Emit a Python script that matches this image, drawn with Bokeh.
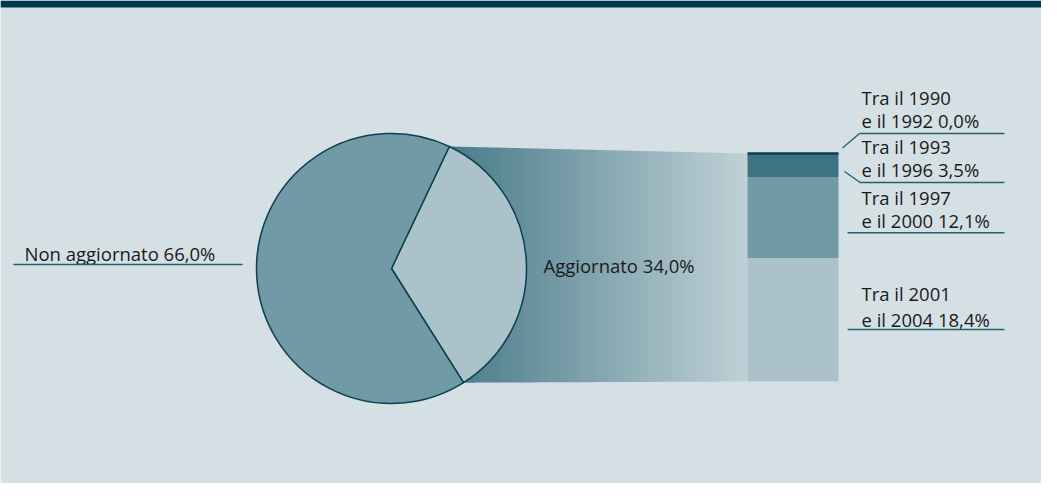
import numpy as np
from bokeh.plotting import figure
from bokeh.models import Range1d
from bokeh.core.properties import value
from bokeh.embed import file_html
from bokeh.resources import INLINE

# ---------------- data ----------------
main_labels = ["Aggiornato", "Non aggiornato"]
main_values = [34.0, 66.0]

sub_from = ["1990", "1993", "1997", "2001"]
sub_to = ["1992", "1996", "2000", "2004"]
sub_values = [0.0, 3.5, 12.1, 18.4]

# ---------------- style ----------------
BG = "#d5e0e5"
BAND = "#003a4a"
OUTLINE = "#0b4150"
PIE_COLORS = ["#abc2ca", "#7199a6"]
BAR_COLORS = ["#0b3f4e", "#3d7382", "#7199a6", "#abc2ca"]
TEXT = "#1a1a1a"
RULE = "#2a5d6b"
FONT = value("Open Sans")
FS = "18.5px"
FIX = 7.0  # baseline correction (px)

def fmt(v):
    return f"{v:.1f}%".replace(".", ",")

p = figure(width=1041, height=483, x_range=Range1d(8, 1049), y_range=Range1d(-491, -8),
           output_backend="svg", toolbar_location=None, min_border=0,
           x_axis_location=None, y_axis_location=None)
p.grid.visible = False
p.outline_line_color = None
p.background_fill_color = BG
p.border_fill_color = BG

# top band
p.quad(left=8, right=1049, top=-8, bottom=-15, fill_color=BAND, line_color=None)

# ---------------- pie geometry ----------------
cx, cy, r = 399.0, -276.0, 135.0
rot = np.deg2rad(-57.75)
total = sum(main_values)
fracs = np.array(main_values) / total
ends = rot + np.cumsum(fracs) * 2 * np.pi
starts = np.concatenate([[rot], ends[:-1]])

# bar geometry
bar_left, bar_right = 755.0, 846.0
bar_bottom = -389.0
scale = (389.0 - 161.0) / main_values[0]  # px per percent
stack_vals = sub_values[::-1]
stack_cols = BAR_COLORS[::-1]
cum = np.concatenate([[0], np.cumsum(stack_vals)])
bar_top = bar_bottom + cum[-1] * scale

# ---------------- gradient connector ----------------
tx, ty = cx + r * np.cos(ends[0]), cy + r * np.sin(ends[0])
bx, by = cx + r * np.cos(starts[0]), cy + r * np.sin(starts[0])
n = 75
xs_edges = np.linspace(tx, bar_left, n + 1)
c0 = np.array([0x4a, 0x7b, 0x8a]); c1 = np.array([0xbf, 0xd1, 0xd7])
pxs, pys, pcols = [], [], []
def top_at(x):
    return ty + (x - tx) * (bar_top - ty) / (bar_left - tx)
def bot_at(x):
    return by + (x - bx) * (bar_bottom - by) / (bar_left - bx)
for i in range(n):
    a, b = xs_edges[i], xs_edges[i + 1] + 0.6
    b = min(b, bar_left)
    pxs.append([a, b, b, a])
    pys.append([top_at(a), top_at(b), bot_at(b), bot_at(a)])
    t = i / (n - 1)
    c = (c0 + (c1 - c0) * t).astype(int)
    pcols.append("#%02x%02x%02x" % tuple(c))
p.patches(pxs, pys, fill_color=pcols, line_color=None)

# pie
p.wedge(x=cx, y=cy, radius=r, start_angle=list(starts), end_angle=list(ends),
        fill_color=PIE_COLORS, line_color=OUTLINE, line_width=1.5)

# stacked bar
for i, (v, col) in enumerate(zip(stack_vals, stack_cols)):
    p.quad(left=bar_left, right=bar_right, bottom=bar_bottom + cum[i] * scale,
           top=bar_bottom + cum[i + 1] * scale, fill_color=col,
           line_color=col if v == 0 else None, line_width=2.5)

# ---------------- labels ----------------
p.text(x=[32], y=[-268 + FIX], text=[f"{main_labels[1]} {fmt(main_values[1])}"],
       text_font=FONT, text_font_size=FS, text_baseline="alphabetic", text_color=TEXT)
p.line([21, 250], [-272, -272], line_color=RULE, line_width=1.5)

p.text(x=[551], y=[-279.5 + FIX], text=[f"{main_labels[0]} {fmt(main_values[0])}"],
       text_font=FONT, text_font_size=FS, text_baseline="alphabetic", text_color=TEXT)

l1_y = [111.7, 160.7, 211.7, 308.3]
l2_y = [135.0, 184.3, 235.0, 334.0]
rule_y = [141.0, 190.0, 240.3, 337.0]
rule_x0 = [867.0, 867.0, 855.0, 855.0]
line1 = [f"Tra il {a}" for a in sub_from]
line2 = [f"e il {b} {fmt(v)}" for b, v in zip(sub_to, sub_values)]
p.text(x=[869] * 4, y=[-y + FIX for y in l1_y], text=line1, text_font=FONT, text_font_size=FS,
       text_baseline="alphabetic", text_color=TEXT)
p.text(x=[869] * 4, y=[-y + FIX for y in l2_y], text=line2, text_font=FONT, text_font_size=FS,
       text_baseline="alphabetic", text_color=TEXT)
p.segment(x0=rule_x0, x1=[1012] * 4, y0=[-y for y in rule_y], y1=[-y for y in rule_y],
          line_color=RULE, line_width=1.5)
# leaders
p.segment(x0=[867, 867.7], y0=[-141, -190], x1=[850, 852], y1=[-155.5, -179],
          line_color=RULE, line_width=1.3)

open("out.html", "w").write(file_html(p, INLINE))
